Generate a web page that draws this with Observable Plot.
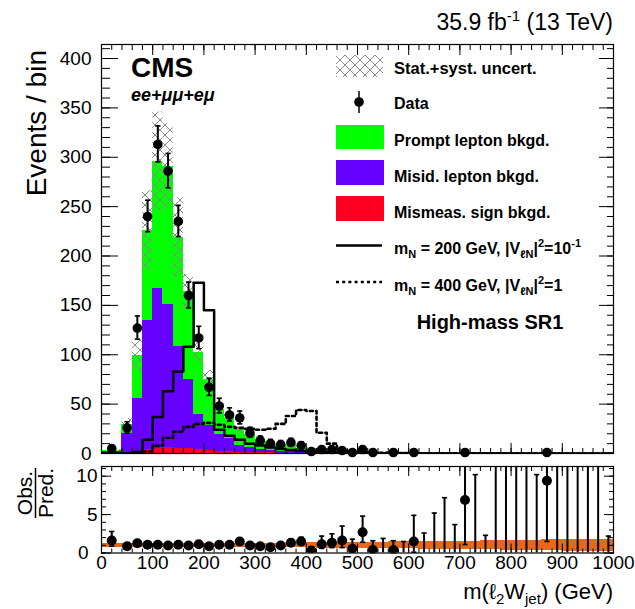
<!DOCTYPE html>
<html><head><meta charset="utf-8">
<script src="https://cdn.jsdelivr.net/npm/d3@7"></script>
<script src="https://cdn.jsdelivr.net/npm/@observablehq/plot@0.6"></script>
<style>
body{margin:0;background:#fff;}
#wrap{position:relative;width:635px;height:609px;overflow:hidden;background:#fff;}
#wrap svg{position:absolute;left:0;}
</style></head><body><div id="wrap"></div>
<script>
// ---- bins (GeV) ----
const binEdges = [0,40,60,80,100,120,140,160,180,200,220,240,260,280,300,320,340,360,380,400,420,440,460,480,500,520,540,560,580,600,620,640,660,680,700,720,740,760,780,800,820,840,860,880,900,920,940,960,980,1000];
// ---- observed data ----
const dataCounts = [5,26,127,240,313,286,235,160,117,67, 48,39,36,21,13,10,9,11,8,2, 4,4,3,1,4,1,0,1,0,1, 0,0,0,0,1,0,0,0,0,0, 0,0,1,0,0,0,0,0,0];
const dataErrLo = [2.2,5.1,11.2,15.5,17.7,16.9,15.3,12.6,10.8,8.2, 6.9,6.2,6.0,4.6,3.6,3.1,2.9,3.3,2.8,1.3, 1.9,1.9,1.6,0.8,1.9,0.8,0,0.8,0,0.8, 0,0,0,0,0.8,0,0,0,0,0, 0,0,0.8,0,0,0,0,0,0];
const dataErrHi = [3.4,6.1,12.3,16.5,18.7,17.9,16.3,13.6,11.8,9.2, 7.9,7.3,7.0,5.6,4.7,4.3,4.1,4.4,3.9,2.6, 3.2,3.2,2.9,2.3,3.2,2.3,1.8,2.3,1.8,2.3, 1.8,1.8,1.8,1.8,2.3,1.8,1.8,1.8,1.8,1.8, 1.8,1.8,2.3,1.8,1.8,1.8,1.8,1.8,1.8];
// ---- backgrounds (stacked, bottom to top) ----
const mismeasSign = [0.3,0.8,2.5,4,5.5,6,5.5,4.7,3.7,3, 2.4,2,1.4,1,0.8,0.6,0.5,0.4,0.3,0.3, 0.2,0.2,0.15,0.1,0.1,0.1,0.05,0.1,0.05,0.03, 0.03,0.02,0.02,0.02,0.01,0.01,0.05,0.01,0.01,0.01, 0.01,0.01,0.01,0.01,0.01,0.01,0.01,0.01,0.05];
const misidLepton = [2,19.8,53.5,131,161.5,145,102.5,70,36,25, 17,13,7,5,3.5,2.5,1.8,1.5,1.2,1.2, 0.9,0.8,0.6,0.5,0.4,0.8,0.3,0.8,0.4,0.2, 0.2,0.1,0.08,0.15,0.05,0.06,0.3,0.05,0.05,0.05, 0.05,0.06,0.04,0.04,0.04,0.04,0.04,0.05,0.3];
const promptLepton = [0.8,8.9,43,91,129,140,111,89.3,62.3,47, 25.6,21,15.6,13.5,10.2,8.9,6.7,6.1,3.9,3.5, 2.4,2,1.15,1.2,1,1.6,0.65,1.6,0.75,0.45, 0.48,0.23,0.17,0.33,0.09,0.11,0.45,0.09,0.06,0.06, 0.09,0.12,0.06,0.07,0.07,0.07,0.07,0.1,0.5];
const bkgUnc = [0.8,6,16,40,50,43,40,17,10,9, 6,5,3.5,3,2.5,2,1.5,1.4,1,1, 0.8,0.7,0.5,0.5,0.4,0.6,0.3,0.6,0.35,0.2, 0.2,0.1,0.08,0.15,0.05,0.06,0.25,0.05,0.04,0.04, 0.05,0.06,0.04,0.04,0.04,0.04,0.04,0.05,0.25];
// ---- signals ----
const signal200 = [0,0,1.5,14,37,63,83,108,173,145, 24,18,14,10,8,6,4.5,3.5,2.5,2, 1.2,1,0.8,0.6,0.5,0.4,0.3,0.3,0.2,0.2, 0.15,0.1,0.1,0.1,0.08,0.05,0.05,0.05,0.04,0.03, 0.03,0.03,0.02,0.02,0.02,0.02,0.02,0.01,0.01];
const signal400 = [0,0,0.5,2,8,16,22,27,30,31, 29,27,26,25,24,25,30,38,44,43, 21,10,3,1.5,1,0.8,0.6,0.5,0.4,0.3, 0.3,0.2,0.2,0.2,0.1,0.1,0.1,0.1,0.1,0.1, 0.05,0.05,0.05,0.05,0.05,0.05,0.05,0.05,0.05];
// ---- ratio panel ----
const ratioVal = [1.63,0.89,1.28,1.07,1.07,0.98,1.07,0.98,1.15,0.89, 1.07,1.07,1.5,0.98,0.89,0.76,0.98,1.33,1.5,0.33, 1.15,1.33,1.63,0.55,2.7,0.4,null,0.4,null,1.5, null,null,null,null,6.9,null,null,null,null,null, null,null,9.4,null,null,null,null,null,null];
const ratioLo = [0.9,0.72,1.13,1.0,1.0,0.92,1.0,0.9,1.05,0.78, 0.92,0.9,1.25,0.75,0.62,0.52,0.66,0.93,1.0,0.12, 0.6,0.7,0.7,0.1,1.4,0.05,0,0.05,0,0.1, 0,0,0,0,1.1,0,0,0,0,0, 0,0,1.5,0,0,0,0,0,0];
const ratioHi = [2.8,1.08,1.43,1.14,1.14,1.04,1.14,1.06,1.25,1.0, 1.22,1.25,1.75,1.25,1.2,1.05,1.35,1.8,2.05,0.75, 2.2,2.5,3.5,1.8,4.8,1.6,1.9,1.6,1.5,4.9, 2.6,5.2,7.2,3.7,30,10.2,2.3,30,30,30, 30,10.2,30,30,30,30,30,30,2.2];
const ratioBand = [0.3,0.28,0.26,0.27,0.26,0.25,0.27,0.24,0.24,0.25, 0.26,0.27,0.28,0.28,0.29,0.3,0.3,0.32,0.33,0.34, 0.35,0.36,0.38,0.4,0.4,0.42,0.42,0.44,0.45,0.46, 0.48,0.5,0.52,0.52,0.55,0.56,0.58,0.6,0.62,0.64, 0.66,0.68,0.7,0.72,0.74,0.75,0.76,0.76,0.74];
// ---- ticks ----
const xMajorTicks = [0,100,200,300,400,500,600,700,800,900,1000];
const yMainTicks = [0,50,100,150,200,250,300,350,400];
const yRatioTicks = [0,5,10];

const C_PROMPT = "#00ff00", C_MISID = "#6600ff", C_MISMEAS = "#ff0022", C_HATCH = "#8a8a8a", C_BAND = "#e3691c";
const FONT = "Liberation Sans, Arial, Helvetica, sans-serif";

const nBins = binEdges.length - 1;
const idx = d3.range(nBins);
const lo = i => binEdges[i], hi = i => binEdges[i + 1];
const ctr = i => (binEdges[i] + binEdges[i + 1]) / 2;
const b1 = i => mismeasSign[i];
const b2 = i => mismeasSign[i] + misidLepton[i];
const tot = i => mismeasSign[i] + misidLepton[i] + promptLepton[i];
const steps = arr => idx.flatMap(i => [{x: lo(i), y: arr[i]}, {x: hi(i), y: arr[i]}]);
const capSym = {draw(ctx) { ctx.moveTo(-2.6, 0); ctx.lineTo(2.6, 0); }};
const fmt = d3.format("d");
const xMinor = d3.range(0, 1001, 20);

function ticks(axis, anchor, major, minor, maj, min) {
  return [
    axis({anchor, ticks: major, tickSize: -maj, fill: "none", label: null, strokeWidth: 1}),
    axis({anchor, ticks: minor, tickSize: -min, fill: "none", label: null, strokeWidth: 1})
  ];
}

const dataIdx = idx.filter(i => dataCounts[i] > 0);

const yMaxMain = 414.2;
const main = Plot.plot({
  width: 635, height: 466,
  marginLeft: 101, marginRight: 22, marginTop: 44, marginBottom: 13,
  x: {domain: [0, 1000]},
  y: {domain: [0, yMaxMain]},
  style: {background: "transparent", fontFamily: FONT, color: "black"},
  marks: [
    Plot.rect(idx, {x1: lo, x2: hi, y1: 0, y2: b1, fill: C_MISMEAS, shapeRendering: "crispEdges"}),
    Plot.rect(idx, {x1: lo, x2: hi, y1: b1, y2: b2, fill: C_MISID, shapeRendering: "crispEdges"}),
    Plot.rect(idx, {x1: lo, x2: hi, y1: b2, y2: tot, fill: C_PROMPT, shapeRendering: "crispEdges"}),
    Plot.rect(idx, {x1: lo, x2: hi, y1: i => tot(i) - bkgUnc[i], y2: i => tot(i) + bkgUnc[i], fill: "url(#hatchMain)"}),
    Plot.line(steps(signal200), {x: "x", y: "y", stroke: "black", strokeWidth: 2.5, clip: true}),
    Plot.line(steps(signal400), {x: "x", y: "y", stroke: "black", strokeWidth: 2.6, strokeDasharray: "3,3.2", clip: true}),
    Plot.ruleX(dataIdx, {x: ctr, y1: i => dataCounts[i] - dataErrLo[i], y2: i => dataCounts[i] + dataErrHi[i], stroke: "black", strokeWidth: 2}),
    Plot.dot(dataIdx, {x: ctr, y: i => dataCounts[i] + dataErrHi[i], symbol: capSym, stroke: "black", strokeWidth: 1.6, fill: "none"}),
    Plot.dot(dataIdx.filter(i => dataCounts[i] - dataErrLo[i] > 0), {x: ctr, y: i => dataCounts[i] - dataErrLo[i], symbol: capSym, stroke: "black", strokeWidth: 1.6, fill: "none"}),
    Plot.dot(dataIdx, {x: ctr, y: i => dataCounts[i], r: 4.8, fill: "black", stroke: "none"}),
    Plot.frame({stroke: "black", strokeWidth: 1.2}),
    ...ticks(Plot.axisY, "left", yMainTicks, d3.range(0, 411, 10), 17, 9),
    ...ticks(Plot.axisY, "right", yMainTicks, d3.range(0, 411, 10), 15, 7),
    ...ticks(Plot.axisX, "bottom", xMajorTicks, xMinor, 10, 5),
    ...ticks(Plot.axisX, "top", xMajorTicks, xMinor, 10, 5),
    Plot.axisY({anchor: "left", ticks: yMainTicks, tickSize: 0, tickPadding: 10, fontSize: 19, label: null, tickFormat: fmt})
  ]
});
main.style.top = "0px";

// hatch pattern definition
const NS = "http://www.w3.org/2000/svg";
function addHatch(svg, id) {
  const defs = document.createElementNS(NS, "defs");
  const pat = document.createElementNS(NS, "pattern");
  pat.setAttribute("id", id); pat.setAttribute("patternUnits", "userSpaceOnUse");
  pat.setAttribute("width", "10"); pat.setAttribute("height", "10");
  const p = document.createElementNS(NS, "path");
  p.setAttribute("d", "M0,0L10,10M10,0L0,10");
  p.setAttribute("stroke", C_HATCH); p.setAttribute("stroke-width", "1"); p.setAttribute("fill", "none");
  pat.appendChild(p); defs.appendChild(pat);
  svg.insertBefore(defs, svg.firstChild);
}
addHatch(main, "hatchMain");

const yMaxRatio = 11.26;
const rIdx = idx.filter(i => ratioVal[i] != null);
const ratio = Plot.plot({
  width: 635, height: 149,
  marginLeft: 101, marginRight: 22, marginTop: 6, marginBottom: 56.5,
  x: {domain: [0, 1000]},
  y: {domain: [0, yMaxRatio]},
  style: {background: "transparent", fontFamily: FONT, color: "black"},
  marks: [
    Plot.rect(idx, {x1: lo, x2: hi, y1: i => 1 - ratioBand[i], y2: i => 1 + ratioBand[i], fill: C_BAND, shapeRendering: "crispEdges"}),
    Plot.ruleX(idx, {x: ctr, y1: i => ratioLo[i], y2: i => ratioHi[i], stroke: "black", strokeWidth: 2, clip: true}),
    Plot.dot(idx.filter(i => ratioHi[i] < yMaxRatio), {x: ctr, y: i => ratioHi[i], symbol: capSym, stroke: "black", strokeWidth: 1.6, fill: "none"}),
    Plot.dot(rIdx.filter(i => ratioLo[i] > 0), {x: ctr, y: i => ratioLo[i], symbol: capSym, stroke: "black", strokeWidth: 1.6, fill: "none"}),
    Plot.dot(rIdx, {x: ctr, y: i => ratioVal[i], r: 5, fill: "black", stroke: "none", clip: true}),
    Plot.frame({stroke: "black", strokeWidth: 1.2}),
    ...ticks(Plot.axisY, "left", yRatioTicks, d3.range(0, 12, 1), 10, 5),
    ...ticks(Plot.axisY, "right", yRatioTicks, d3.range(0, 12, 1), 10, 5),
    ...ticks(Plot.axisX, "bottom", xMajorTicks, xMinor, 9, 4),
    ...ticks(Plot.axisX, "top", xMajorTicks, xMinor, 9, 4),
    Plot.axisY({anchor: "left", ticks: [5, 10], tickSize: 0, tickPadding: 4, fontSize: 19, label: null, tickFormat: fmt}),
    Plot.axisY({anchor: "left", ticks: [0], tickSize: 0, tickPadding: 13, fontSize: 19, label: null, tickFormat: fmt}),
    Plot.axisX({anchor: "bottom", ticks: xMajorTicks, tickSize: 0, tickPadding: 2, fontSize: 19, label: null, tickFormat: fmt})
  ]
});
ratio.style.top = "460px";

const wrap = document.getElementById("wrap");
wrap.appendChild(main);
wrap.appendChild(ratio);

// ---- text & legend overlay ----
const sub = (t, fs, d) => `<tspan dy="${d}" font-size="${fs}">${t}</tspan>`;
const overlay = `
<svg width="635" height="609" style="top:0" font-family="${FONT}" fill="black">
 <defs><pattern id="hatchLeg" patternUnits="userSpaceOnUse" width="10" height="10"><path d="M0,0L10,10M10,0L0,10" stroke="${C_HATCH}" stroke-width="1" fill="none"/></pattern></defs>
 <text x="613" y="30" text-anchor="end" font-size="23">35.9 fb<tspan dy="-9" font-size="15">-1</tspan><tspan dy="9"> (13 TeV)</tspan></text>
 <text x="131" y="77" font-size="28" font-weight="bold">CMS</text>
 <text x="131" y="101" font-size="18" font-weight="bold" font-style="italic">ee+μμ+eμ</text>
 <text transform="translate(46,50) rotate(-90)" text-anchor="end" font-size="28">Events / bin</text>
 <text transform="translate(32,493) rotate(-90)" text-anchor="middle" font-size="21">Obs.</text>
 <line x1="35.5" x2="35.5" y1="468" y2="518" stroke="black" stroke-width="1.5"/>
 <text transform="translate(53,493) rotate(-90)" text-anchor="middle" font-size="21">Pred.</text>
 <text x="613" y="599" text-anchor="end" font-size="22">m(ℓ<tspan dy="5" font-size="15">2</tspan><tspan dy="-5">W</tspan><tspan dy="5" font-size="15">jet</tspan><tspan dy="-5">) (GeV)</tspan></text>

 <rect x="336" y="55" width="47" height="22" fill="url(#hatchLeg)"/>
 <text x="394" y="73.7" font-size="16.5" font-weight="bold">Stat.+syst. uncert.</text>
 <line x1="359" x2="359" y1="91" y2="113" stroke="black" stroke-width="1.5"/>
 <circle cx="359" cy="102" r="4.8"/>
 <text x="394" y="108.7" font-size="16" font-weight="bold">Data</text>
 <rect x="336" y="125" width="48" height="24" fill="${C_PROMPT}"/>
 <text x="394" y="145.7" font-size="16" font-weight="bold">Prompt lepton bkgd.</text>
 <rect x="336" y="160" width="48" height="25" fill="${C_MISID}"/>
 <text x="394" y="181.7" font-size="16" font-weight="bold">Misid. lepton bkgd.</text>
 <rect x="336" y="196" width="48" height="25" fill="${C_MISMEAS}"/>
 <text x="394" y="217.7" font-size="16" font-weight="bold">Mismeas. sign bkgd.</text>
 <line x1="336" x2="382" y1="245.5" y2="245.5" stroke="black" stroke-width="2.5"/>
 <text x="394" y="253.7" font-size="16" font-weight="bold">m${sub("N", 11, 4)}<tspan dy="-4"> = 200 GeV, |V</tspan>${sub("ℓN", 11, 4)}<tspan dy="-4">|</tspan>${sub("2", 11, -7)}<tspan dy="7">=10</tspan>${sub("-1", 11, -7)}</text>
 <line x1="336" x2="382" y1="282" y2="282" stroke="black" stroke-width="2.6" stroke-dasharray="3,3.2"/>
 <text x="394" y="290.7" font-size="16" font-weight="bold">m${sub("N", 11, 4)}<tspan dy="-4"> = 400 GeV, |V</tspan>${sub("ℓN", 11, 4)}<tspan dy="-4">|</tspan>${sub("2", 11, -7)}<tspan dy="7">=1</tspan></text>
 <text x="490" y="329" text-anchor="middle" font-size="20" font-weight="bold">High-mass SR1</text>
</svg>`;
wrap.insertAdjacentHTML("beforeend", overlay);
</script>
</body></html>
